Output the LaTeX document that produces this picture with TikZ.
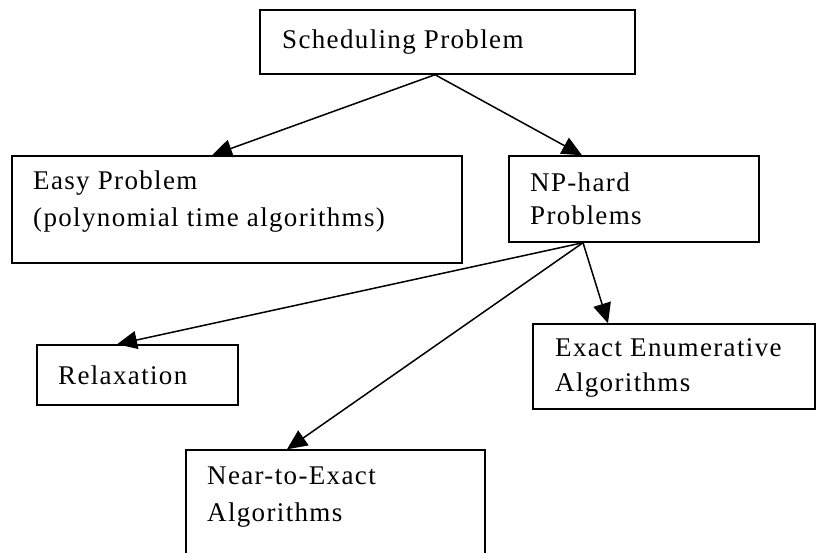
\documentclass[tikz,border=0pt]{standalone}
\usepackage{fontspec}
\setmainfont{Liberation Serif}[LetterSpace=5]
\usetikzlibrary{arrows.meta}
\begin{document}
\begin{tikzpicture}[x=1pt,y=-1pt,
  box/.style={draw=black, line width=1.4pt, rectangle, inner sep=0pt},
  lbl/.style={anchor=base west, inner sep=0pt, font=\fontsize{27}{35}\selectfont},
  conn/.style={line width=1.5pt, -{Triangle[length=20pt,width=18pt]}}]
\useasboundingbox (0,0) rectangle (822,552);
% boxes
\node[box, minimum width=375pt, minimum height=64pt] (s) at (447.5,42) {};
\node[box, minimum width=450pt, minimum height=107pt] (e) at (237,209.5) {};
\node[box, minimum width=250pt, minimum height=86pt] (n) at (634,199) {};
\node[box, minimum width=201pt, minimum height=60pt] (r) at (137.5,375) {};
\node[box, minimum width=282pt, minimum height=85pt] (x) at (674,366.5) {};
\node[box, minimum width=299pt, minimum height=104pt] (a) at (335.5,502) {};
% labels
\node[lbl] (s1) at (282,48) {Scheduling Problem};
\node[lbl] (e1) at (33,189) {Easy Problem};
\node[lbl] (e2) at (33,226) {(polynomial time algorithms)};
\node[lbl] (n1) at (530,191) {NP-hard};
\node[lbl] (n2) at (530,224) {Problems};
\node[lbl] (r1) at (58,384) {Relaxation};
\node[lbl] (x1) at (555,356) {Exact Enumerative};
\node[lbl] (x2) at (555,391) {Algorithms};
\node[lbl] (a1) at (207,484) {Near-to-Exact};
\node[lbl] (a2) at (207,521) {Algorithms};
% connectors
\draw[conn] ([xshift=-12.5pt]s.south) -- ([xshift=-25pt]e.north);
\draw[conn] ([xshift=-12.5pt]s.south) -- ([xshift=-52pt]n.north);
\draw[conn] ([xshift=-51pt]n.south) -- ([xshift=-20.5pt]r.north);
\draw[conn] ([xshift=-51pt]n.south) -- ([xshift=-48.5pt]a.north);
\draw[conn] ([xshift=-51pt]n.south) -- ([xshift=-66pt]x.north);
\end{tikzpicture}
\end{document}
